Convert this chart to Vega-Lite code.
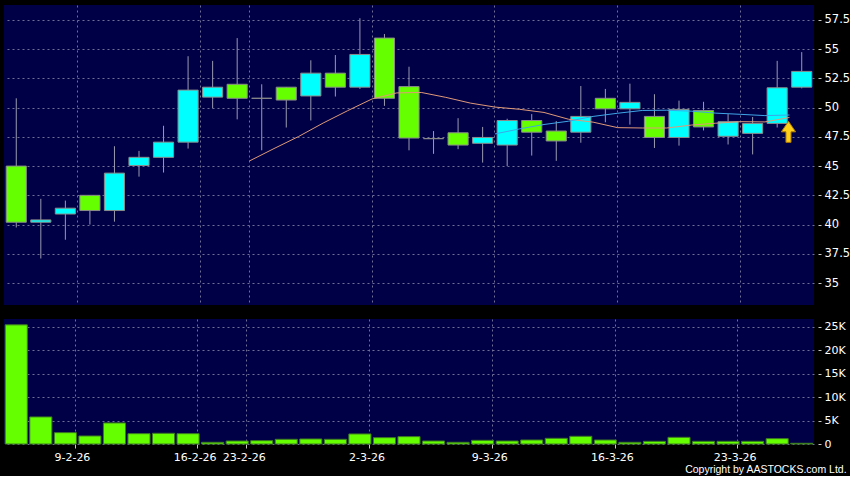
{
  "$schema": "https://vega.github.io/schema/vega-lite/v6.json",
  "background": "#000000",
  "padding": {"left": 4, "top": 5, "right": 0, "bottom": 0},
  "autosize": {"type": "pad"},
  "spacing": 14,
  "config": {
    "view": {"fill": "#000046", "stroke": null},
    "axis": {
      "labelColor": "#ffffff",
      "labelFont": "DejaVu Sans",
      "labelFontSize": 11,
      "gridColor": "#6e6e96",
      "gridDash": [2, 3],
      "gridWidth": 1,
      "tickColor": "#c8c8c8",
      "domain": false,
      "title": null,
      "labelOverlap": false
    }
  },
  "title": {
    "text": "Copyright by AASTOCKS.com Ltd.",
    "orient": "bottom",
    "anchor": "end",
    "frame": "bounds",
    "color": "#ffffff",
    "font": "Liberation Sans",
    "fontSize": 10.5,
    "fontWeight": "normal",
    "offset": 3,
    "dx": -3
  },
  "datasets": {
    "k": [
      {"d": "4-2-26", "open": 45.0, "high": 50.8, "low": 39.75, "close": 40.2, "vol": 25400, "ma10": null, "ma20": null, "arrow": null},
      {"d": "5-2-26", "open": 40.2, "high": 42.2, "low": 37.1, "close": 40.4, "vol": 5770, "ma10": null, "ma20": null, "arrow": null},
      {"d": "6-2-26", "open": 40.9, "high": 42.05, "low": 38.7, "close": 41.4, "vol": 2420, "ma10": null, "ma20": null, "arrow": null},
      {"d": "9-2-26", "open": 42.5, "high": 42.5, "low": 40.0, "close": 41.2, "vol": 1710, "ma10": null, "ma20": null, "arrow": null},
      {"d": "10-2-26", "open": 41.2, "high": 46.7, "low": 40.25, "close": 44.4, "vol": 4490, "ma10": null, "ma20": null, "arrow": null},
      {"d": "11-2-26", "open": 45.05, "high": 46.3, "low": 44.1, "close": 45.75, "vol": 2200, "ma10": null, "ma20": null, "arrow": null},
      {"d": "12-2-26", "open": 45.75, "high": 48.45, "low": 44.45, "close": 47.05, "vol": 2280, "ma10": null, "ma20": null, "arrow": null},
      {"d": "13-2-26", "open": 47.05, "high": 54.4, "low": 46.5, "close": 51.5, "vol": 2200, "ma10": null, "ma20": null, "arrow": null},
      {"d": "16-2-26", "open": 50.9, "high": 54.0, "low": 49.95, "close": 51.75, "vol": 360, "ma10": null, "ma20": null, "arrow": null},
      {"d": "20-2-26", "open": 52.0, "high": 55.95, "low": 49.0, "close": 50.8, "vol": 640, "ma10": 45.44, "ma20": null, "arrow": null},
      {"d": "23-2-26", "open": 50.8, "high": 52.0, "low": 46.35, "close": 50.8, "vol": 710, "ma10": 46.5, "ma20": null, "arrow": null},
      {"d": "24-2-26", "open": 51.75, "high": 51.75, "low": 48.3, "close": 50.65, "vol": 1000, "ma10": 47.53, "ma20": null, "arrow": null},
      {"d": "25-2-26", "open": 51.0, "high": 54.05, "low": 48.9, "close": 52.95, "vol": 1070, "ma10": 48.68, "ma20": null, "arrow": null},
      {"d": "26-2-26", "open": 52.95, "high": 54.5, "low": 50.95, "close": 51.75, "vol": 1000, "ma10": 49.74, "ma20": null, "arrow": null},
      {"d": "27-2-26", "open": 51.75, "high": 57.65, "low": 51.6, "close": 54.55, "vol": 2140, "ma10": 50.75, "ma20": null, "arrow": null},
      {"d": "2-3-26", "open": 55.95, "high": 56.3, "low": 50.15, "close": 50.8, "vol": 1350, "ma10": 51.26, "ma20": null, "arrow": null},
      {"d": "3-3-26", "open": 51.8, "high": 53.5, "low": 46.35, "close": 47.4, "vol": 1570, "ma10": 51.3, "ma20": null, "arrow": null},
      {"d": "4-3-26", "open": 47.35, "high": 48.0, "low": 46.05, "close": 47.35, "vol": 640, "ma10": 50.88, "ma20": null, "arrow": null},
      {"d": "5-3-26", "open": 47.85, "high": 49.1, "low": 46.45, "close": 46.8, "vol": 360, "ma10": 50.39, "ma20": null, "arrow": null},
      {"d": "6-3-26", "open": 46.95, "high": 48.35, "low": 45.3, "close": 47.45, "vol": 780, "ma10": 50.05, "ma20": 47.75, "arrow": null},
      {"d": "9-3-26", "open": 46.8, "high": 49.05, "low": 45.0, "close": 48.9, "vol": 640, "ma10": 49.86, "ma20": 48.18, "arrow": null},
      {"d": "10-3-26", "open": 48.9, "high": 49.45, "low": 45.9, "close": 47.9, "vol": 850, "ma10": 49.59, "ma20": 48.56, "arrow": null},
      {"d": "11-3-26", "open": 48.0, "high": 48.85, "low": 45.45, "close": 47.15, "vol": 1210, "ma10": 49.01, "ma20": 48.84, "arrow": null},
      {"d": "12-3-26", "open": 47.9, "high": 51.85, "low": 47.0, "close": 49.25, "vol": 1640, "ma10": 48.76, "ma20": 49.25, "arrow": null},
      {"d": "13-3-26", "open": 50.8, "high": 51.6, "low": 48.75, "close": 49.9, "vol": 850, "ma10": 48.29, "ma20": 49.52, "arrow": null},
      {"d": "16-3-26", "open": 49.9, "high": 52.05, "low": 48.55, "close": 50.45, "vol": 360, "ma10": 48.26, "ma20": 49.76, "arrow": null},
      {"d": "17-3-26", "open": 49.25, "high": 51.15, "low": 46.55, "close": 47.45, "vol": 570, "ma10": 48.26, "ma20": 49.78, "arrow": null},
      {"d": "18-3-26", "open": 47.45, "high": 50.6, "low": 46.75, "close": 49.85, "vol": 1420, "ma10": 48.51, "ma20": 49.7, "arrow": null},
      {"d": "19-3-26", "open": 49.75, "high": 50.5, "low": 48.05, "close": 48.35, "vol": 570, "ma10": 48.67, "ma20": 49.53, "arrow": null},
      {"d": "20-3-26", "open": 47.55, "high": 49.45, "low": 46.85, "close": 48.8, "vol": 570, "ma10": 48.8, "ma20": 49.43, "arrow": null},
      {"d": "23-3-26", "open": 47.8, "high": 49.2, "low": 46.0, "close": 48.65, "vol": 570, "ma10": 48.78, "ma20": 49.32, "arrow": null},
      {"d": "24-3-26", "open": 48.65, "high": 54.0, "low": 48.3, "close": 51.7, "vol": 1140, "ma10": 49.16, "ma20": 49.37, "arrow": 47.93},
      {"d": "25-3-26", "open": 51.75, "high": 54.75, "low": 51.65, "close": 53.1, "vol": 150, "ma10": null, "ma20": null, "arrow": null}
    ]
  },
  "vconcat": [
    {
      "width": 810,
      "height": 300,
      "data": {"name": "k"},
      "encoding": {
        "x": {
          "field": "d",
          "type": "ordinal",
          "scale": {
            "domain": ["4-2-26","5-2-26","6-2-26","9-2-26","10-2-26","11-2-26","12-2-26","13-2-26","16-2-26","20-2-26","23-2-26","24-2-26","25-2-26","26-2-26","27-2-26","2-3-26","3-3-26","4-3-26","5-3-26","6-3-26","9-3-26","10-3-26","11-3-26","12-3-26","13-3-26","16-3-26","17-3-26","18-3-26","19-3-26","20-3-26","23-3-26","24-3-26","25-3-26"],
            "paddingInner": 0,
            "paddingOuter": 0
          },
          "axis": {
            "values": ["9-2-26","16-2-26","23-2-26","2-3-26","9-3-26","16-3-26","23-3-26"],
            "labels": false,
            "ticks": false,
            "grid": true,
            "bandPosition": 0
          }
        }
      },
      "layer": [
        {
          "mark": {"type": "rule", "color": "#9a9ab0", "strokeWidth": 1},
          "encoding": {
            "y": {
              "field": "low",
              "type": "quantitative",
              "scale": {"domain": [33.12, 58.78], "nice": false, "zero": false},
              "axis": {
                "orient": "right",
                "values": [35, 37.5, 40, 42.5, 45, 47.5, 50, 52.5, 55, 57.5],
                "labelExpr": "'' + datum.value",
                "grid": true,
                "tickSize": 3,
                "offset": 4,
                "labelPadding": 3,
                "labelFontSize": 11.5
              }
            },
            "y2": {"field": "high"}
          }
        },
        {
          "mark": {"type": "bar", "width": {"band": 0.82}, "stroke": "#8a8a8a", "strokeWidth": 1},
          "encoding": {
            "y": {
              "field": "open",
              "type": "quantitative",
              "scale": {"domain": [33.12, 58.78], "nice": false, "zero": false},
              "axis": {
                "orient": "right",
                "values": [35, 37.5, 40, 42.5, 45, 47.5, 50, 52.5, 55, 57.5],
                "labelExpr": "'' + datum.value",
                "grid": true,
                "tickSize": 3,
                "offset": 4,
                "labelPadding": 3,
                "labelFontSize": 11.5
              }
            },
            "y2": {"field": "close"},
            "color": {
              "condition": {"test": "datum.close > datum.open", "value": "#00ffff"},
              "value": "#66ff00"
            }
          }
        },
        {
          "mark": {"type": "line", "color": "#e09a78", "strokeWidth": 1},
          "encoding": {
            "x": {"field": "d", "type": "ordinal", "bandPosition": 1},
            "y": {
              "field": "ma10",
              "type": "quantitative",
              "scale": {"domain": [33.12, 58.78], "nice": false, "zero": false},
              "axis": {
                "orient": "right",
                "values": [35, 37.5, 40, 42.5, 45, 47.5, 50, 52.5, 55, 57.5],
                "labelExpr": "'' + datum.value",
                "grid": true,
                "tickSize": 3,
                "offset": 4,
                "labelPadding": 3,
                "labelFontSize": 11.5
              }
            }
          }
        },
        {
          "mark": {"type": "line", "color": "#3fa6e6", "strokeWidth": 1},
          "encoding": {
            "x": {"field": "d", "type": "ordinal", "bandPosition": 1},
            "y": {
              "field": "ma20",
              "type": "quantitative",
              "scale": {"domain": [33.12, 58.78], "nice": false, "zero": false},
              "axis": {
                "orient": "right",
                "values": [35, 37.5, 40, 42.5, 45, 47.5, 50, 52.5, 55, 57.5],
                "labelExpr": "'' + datum.value",
                "grid": true,
                "tickSize": 3,
                "offset": 4,
                "labelPadding": 3,
                "labelFontSize": 11.5
              }
            }
          }
        },
        {
          "transform": [{"filter": "isValid(datum.arrow)"}],
          "mark": {
            "type": "point",
            "shape": "M0,-1L0.68,0L0.24,0L0.24,1L-0.24,1L-0.24,0L-0.68,0Z",
            "size": 441,
            "filled": true,
            "fill": "#ffcf1a",
            "stroke": "#b07a00",
            "strokeWidth": 1,
            "opacity": 1
          },
          "encoding": {
            "x": {"field": "d", "type": "ordinal", "bandPosition": 0.96},
            "y": {
              "field": "arrow",
              "type": "quantitative",
              "scale": {"domain": [33.12, 58.78], "nice": false, "zero": false},
              "axis": {
                "orient": "right",
                "values": [35, 37.5, 40, 42.5, 45, 47.5, 50, 52.5, 55, 57.5],
                "labelExpr": "'' + datum.value",
                "grid": true,
                "tickSize": 3,
                "offset": 4,
                "labelPadding": 3,
                "labelFontSize": 11.5
              }
            }
          }
        }
      ]
    },
    {
      "width": 810,
      "height": 125,
      "data": {"name": "k"},
      "mark": {"type": "bar", "width": {"band": 0.9}, "fill": "#66ff00", "stroke": "#3d7a22", "strokeWidth": 1},
      "encoding": {
        "x": {
          "field": "d",
          "type": "ordinal",
          "scale": {
            "domain": ["4-2-26","5-2-26","6-2-26","9-2-26","10-2-26","11-2-26","12-2-26","13-2-26","16-2-26","20-2-26","23-2-26","24-2-26","25-2-26","26-2-26","27-2-26","2-3-26","3-3-26","4-3-26","5-3-26","6-3-26","9-3-26","10-3-26","11-3-26","12-3-26","13-3-26","16-3-26","17-3-26","18-3-26","19-3-26","20-3-26","23-3-26","24-3-26","25-3-26"],
            "paddingInner": 0,
            "paddingOuter": 0
          },
          "axis": {
            "values": ["9-2-26","16-2-26","23-2-26","2-3-26","9-3-26","16-3-26","23-3-26"],
            "labelAngle": 0,
            "grid": true,
            "bandPosition": 0,
            "tickSize": 4,
            "tickOffset": -3,
            "labelPadding": 3,
            "labelOffset": -15
          }
        },
        "y": {
          "field": "vol",
          "type": "quantitative",
          "scale": {"domain": [0, 26650], "nice": false},
          "axis": {
            "orient": "right",
            "values": [0, 5000, 10000, 15000, 20000, 25000],
            "labelExpr": "datum.value == 0 ? '0' : (datum.value / 1000) + 'K'",
            "grid": true,
            "tickSize": 3,
            "offset": 4,
            "labelPadding": 3
          }
        }
      }
    }
  ]
}
